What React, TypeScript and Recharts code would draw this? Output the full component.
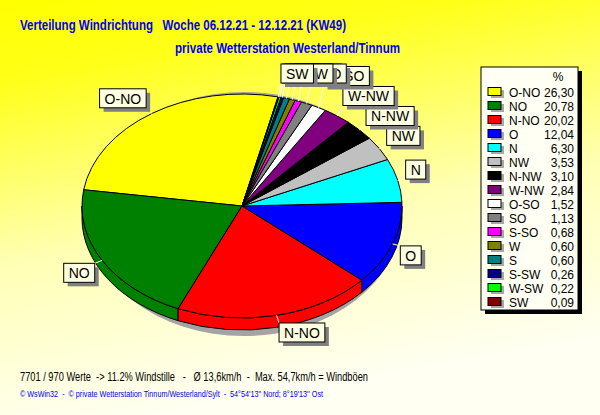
import React from "react";
import { Pie, PieChart } from "recharts";

// wind direction shares for the week, in legend order
const directions = ["O-NO", "NO", "N-NO", "O", "N", "NW", "N-NW", "W-NW", "O-SO", "SO", "S-SO", "W", "S", "S-SW", "W-SW", "SW"];
const shares = [26.3, 20.78, 20.02, 12.04, 6.3, 3.53, 3.1, 2.84, 1.52, 1.13, 0.68, 0.6, 0.6, 0.26, 0.22, 0.09];
const sliceColors = [
  "#FFFF00", "#008000", "#FF0000", "#0000FF", "#00FFFF", "#C0C0C0", "#000000", "#800080",
  "#FFFFFF", "#808080", "#FF00FF", "#808000", "#008080", "#000080", "#00FF00", "#800000",
];

const titleLine1 = "Verteilung Windrichtung   Woche 06.12.21 - 12.12.21 (KW49)";
const titleLine2 = "private Wetterstation Westerland/Tinnum";
const footerLine1 = "7701 / 970 Werte  -> 11.2% Windstille   -   Ø 13,6km/h  -  Max. 54,7km/h = Windböen";
const footerLine2 = "© WsWin32  -  © private Wetterstation Tinnum/Westerland/Sylt  -  54°54'13'' Nord; 8°19'13'' Ost";

const slices = directions.map((name, i) => ({ name, value: shares[i], fill: sliceColors[i] }));

const W = 600;
const H = 415;
const TILT = 0.7; // vertical squash of the pie disc
const DEPTH = 12; // rim height
const RAD = Math.PI / 180;
const FONT = "'Liberation Sans', Arial, sans-serif";
const BLUE = "#0000F0";

const pt = (cx: number, cy: number, rx: number, ry: number, deg: number) => [
  cx + rx * Math.cos(deg * RAD),
  cy - ry * Math.sin(deg * RAD),
];

function TopFace(props: any) {
  const { cx, cy, outerRadius, startAngle, endAngle, fill } = props;
  const rx = outerRadius;
  const ry = outerRadius * TILT;
  const [x1, y1] = pt(cx, cy, rx, ry, startAngle);
  const [x2, y2] = pt(cx, cy, rx, ry, endAngle);
  const large = endAngle - startAngle > 180 ? 1 : 0;
  const d = `M${cx},${cy} L${x1},${y1} A${rx},${ry} 0 ${large} 0 ${x2},${y2} Z`;
  return <path d={d} fill={fill} stroke="#000" strokeWidth={1} />;
}

// front rim: only the part of each slice that lies in the lower half
function SideWall(props: any) {
  const { cx, cy, outerRadius, startAngle, endAngle, fill } = props;
  const s = Math.max(startAngle, 180);
  const e = Math.min(endAngle, 360);
  if (e <= s) return <g />;
  const rx = outerRadius;
  const ry = outerRadius * TILT;
  const [x1, y1] = pt(cx, cy, rx, ry, s);
  const [x2, y2] = pt(cx, cy, rx, ry, e);
  const large = e - s > 180 ? 1 : 0;
  const d =
    `M${x1},${y1} A${rx},${ry} 0 ${large} 0 ${x2},${y2} L${x2},${y2 + DEPTH} ` +
    `A${rx},${ry} 0 ${large} 1 ${x1},${y1 + DEPTH} Z`;
  return <path d={d} fill={fill} stroke="#000" strokeWidth={1} />;
}

const charW: Record<string, number> = { O: 10.9, N: 10.1, W: 13.2, S: 9.3, "-": 4.7 };
const textWidth = (s: string) => s.split("").reduce((a, c) => a + (charW[c] ?? 8), 0);

type Box = { x1: number; y1: number; x2: number; y2: number };
const placed: Box[] = [];

function SliceLabel(props: any) {
  const { cx, cy, outerRadius, midAngle, index } = props;
  const name = directions[index];
  if (index === 0) placed.length = 0;
  const rx = outerRadius;
  const ry = outerRadius * TILT;
  const [px, py] = pt(cx, cy, rx, ry, midAngle);
  const len = Math.hypot(px - cx, py - cy);
  const ax = px + ((px - cx) / len) * 8;
  const ay = py + ((py - cy) / len) * 8;
  const w = textWidth(name) + 10;
  const h = 19;
  const right = Math.cos(midAngle * RAD) >= 0;
  const upper = Math.sin(midAngle * RAD) >= 0;
  let x = right ? ax : ax - w;
  let y = upper ? ay - h : ay;
  // push up when it runs into the previous label
  const prev = placed[placed.length - 1];
  if (prev && x < prev.x2 && x + w > prev.x1 && y < prev.y2 && y + h > prev.y1) {
    y = Math.max(prev.y1 - 1 - h, 64);
  }
  placed.push({ x1: x, y1: y, x2: x + w, y2: y + h });
  const lx = right ? x : x + w;
  const ly = upper ? y + h : y;
  return (
    <g>
      <line x1={px} y1={py} x2={lx} y2={ly} stroke="#FFFFFF" strokeWidth={1} />
      <rect x={x + 4} y={y + 4} width={w} height={h} fill="#808080" />
      <rect x={x} y={y} width={w} height={h} fill="#FFFFE1" stroke="#000" strokeWidth={1} />
      <text x={x + w / 2} y={y + 15} textAnchor="middle" fontFamily={FONT} fontSize={14} fill="#000">
        {name}
      </text>
    </g>
  );
}

function LegendTable() {
  const x0 = 481;
  const y0 = 67;
  return (
    <g fontFamily={FONT} fontSize={12}>
      <rect x={x0 + 4} y={y0 + 4} width={97} height={243} fill="#000" />
      <rect x={x0} y={y0} width={97} height={243} fill="#FFFFF4" stroke="#000" strokeWidth={1} />
      <text x={558} y={81} textAnchor="middle" fill="#000">%</text>
      {directions.map((d, i) => {
        const y = 92 + i * 14;
        return (
          <g key={d}>
            <rect x={491} y={y - 2} width={13} height={8} fill="#A8A8A8" />
            <rect x={488} y={y - 4.5} width={13} height={8} fill={sliceColors[i]} stroke="#000" strokeWidth={1} />
            <text x={509} y={y + 4.5} fill="#000">{d}</text>
            <text x={574} y={y + 4.5} textAnchor="end" fill="#000">
              {shares[i].toFixed(2).replace(".", ",")}
            </text>
          </g>
        );
      })}
    </g>
  );
}

export default function App() {
  return (
    <div style={{ position: "absolute", left: 0, top: 0, width: W, height: H }}>
      <PieChart width={W} height={H} margin={{ top: 0, right: 0, bottom: 0, left: 0 }}>
        <defs>
          <linearGradient id="bg" x1="0" y1="0" x2="0.25" y2="1">
            <stop offset="0%" stopColor="#FFFF00" />
            <stop offset="18%" stopColor="#FFFF18" />
            <stop offset="60%" stopColor="#FFFFB4" />
            <stop offset="100%" stopColor="#FFFFF2" />
          </linearGradient>
        </defs>
        <rect x={0} y={0} width={W} height={H} fill="url(#bg)" />
        <text x={20} y={30} fontFamily={FONT} fontWeight="bold" fontSize={14} fill={BLUE} textLength={326} lengthAdjust="spacingAndGlyphs" xmlSpace="preserve">
          {titleLine1}
        </text>
        <text x={175} y={53} fontFamily={FONT} fontWeight="bold" fontSize={14} fill={BLUE} textLength={225} lengthAdjust="spacingAndGlyphs">
          {titleLine2}
        </text>
        <ellipse cx={244} cy={214} rx={158} ry={122} fill="#A4A4A4" />
        <Pie
          data={slices}
          dataKey="value"
          nameKey="name"
          cx={242}
          cy={206}
          outerRadius={160}
          startAngle={77}
          endAngle={437}
          shape={SideWall}
          inactiveShape={SideWall}
          activeShape={SideWall}
          isAnimationActive={false}
          label={false}
          labelLine={false}
        />
        <Pie
          data={slices}
          dataKey="value"
          nameKey="name"
          cx={242}
          cy={206}
          outerRadius={160}
          startAngle={77}
          endAngle={437}
          shape={TopFace}
          inactiveShape={TopFace}
          activeShape={TopFace}
          isAnimationActive={false}
          label={SliceLabel}
          labelLine={false}
        />
        <LegendTable />
        <text x={20} y={381} fontFamily={FONT} fontSize={12} fill="#000" textLength={348} lengthAdjust="spacingAndGlyphs" xmlSpace="preserve">
          {footerLine1}
        </text>
        <text x={20} y={397} fontFamily={FONT} fontSize={9} fill={BLUE} textLength={303} lengthAdjust="spacingAndGlyphs" xmlSpace="preserve">
          {footerLine2}
        </text>
      </PieChart>
    </div>
  );
}
